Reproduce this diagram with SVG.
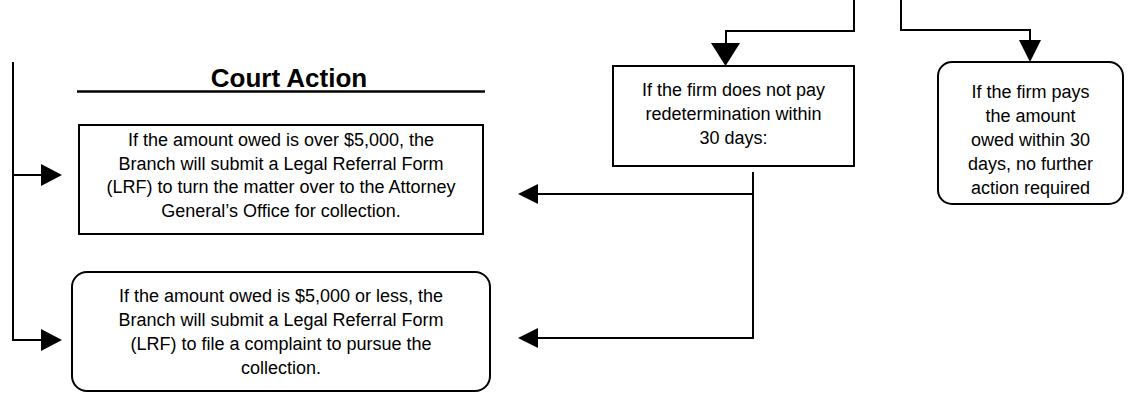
<svg xmlns="http://www.w3.org/2000/svg" width="1132" height="393" viewBox="0 0 1132 393">
<style>
.box{fill:#fff;stroke:#000;stroke-width:2}
.ln{fill:none;stroke:#000;stroke-width:2}
.hd{fill:#000;stroke:none}
text{font-family:"Liberation Sans",Arial,sans-serif;font-size:18px;fill:#000;text-anchor:middle}
.title{font-size:26px;font-weight:bold}
</style>
<rect width="1132" height="393" fill="#fff"/>
<g id="connectors">
<polyline class="ln" points="854,0 854,31 726,31 726,44"/>
<polygon class="hd" points="711,43 740,43 725.5,66"/>
<polyline class="ln" points="901,0 901,30 1030,30 1030,41"/>
<polygon class="hd" points="1019,40 1041,40 1030,62"/>
<polyline class="ln" points="753,172 753,338 537,338"/>
<line class="ln" x1="753" y1="194" x2="537" y2="194"/>
<polygon class="hd" points="538,184 538,204 518,194"/>
<polygon class="hd" points="538,328 538,348 518,338"/>
<polyline class="ln" points="13,62 13,340 42,340"/>
<line class="ln" x1="13" y1="175" x2="42" y2="175"/>
<polygon class="hd" points="41,164 41,186 62,175"/>
<polygon class="hd" points="41,329 41,351 62,340"/>
</g>
<g id="title">
<text class="title" x="289" y="87">Court Action</text>
<line x1="77" y1="91.5" x2="485" y2="91.5" stroke="#000" stroke-width="2.5"/>
</g>
<g id="node-over5000">
<rect class="box" x="79" y="125" width="404" height="109"/>
<text x="281" y="146">If the amount owed is over $5,000, the</text>
<text x="281" y="169.5">Branch will submit a Legal Referral Form</text>
<text x="281" y="193">(LRF) to turn the matter over to the Attorney</text>
<text x="281" y="216.5">General’s Office for collection.</text>
</g>
<g id="node-under5000">
<rect class="box" x="72" y="272" width="418" height="119" rx="15" ry="15"/>
<text x="281" y="301.5">If the amount owed is $5,000 or less, the</text>
<text x="281" y="325.5">Branch will submit a Legal Referral Form</text>
<text x="281" y="349.5">(LRF) to file a complaint to pursue the</text>
<text x="281" y="373.5">collection.</text>
</g>
<g id="node-notpay">
<rect class="box" x="613" y="66" width="241" height="100"/>
<text x="733.5" y="96">If the firm does not pay</text>
<text x="733.5" y="120">redetermination within</text>
<text x="733.5" y="143.5">30 days:</text>
</g>
<g id="node-pays">
<rect class="box" x="938" y="62" width="185" height="142" rx="14" ry="14"/>
<text x="1030.5" y="97.5">If the firm pays</text>
<text x="1030.5" y="121.5">the amount</text>
<text x="1030.5" y="145.5">owed within 30</text>
<text x="1030.5" y="169.5">days, no further</text>
<text x="1030.5" y="193.5">action required</text>
</g>
</svg>
